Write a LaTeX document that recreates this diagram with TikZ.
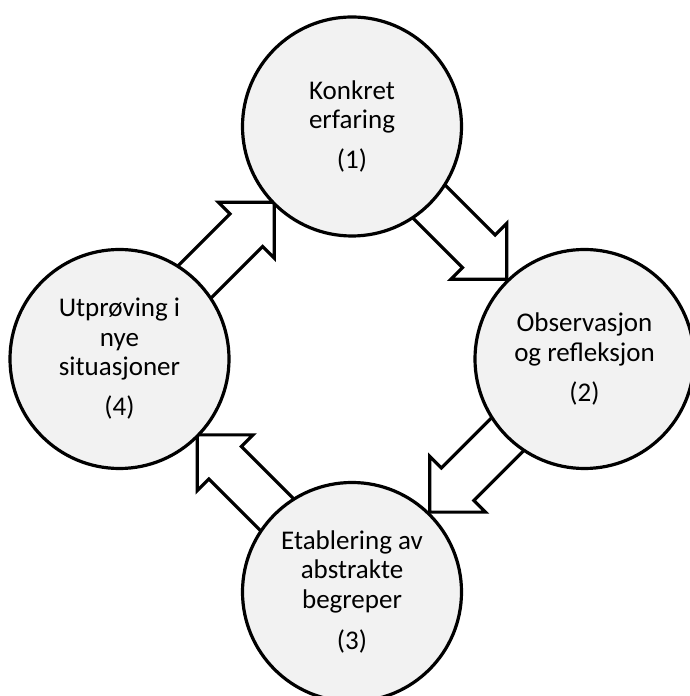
\documentclass[tikz,border=0pt]{standalone}
\usepackage{fontspec}
\setmainfont{Carlito}
\usetikzlibrary{calc}
\definecolor{circfill}{HTML}{F2F2F2}
\begin{document}
\begin{tikzpicture}[x=1pt,y=1pt,
  stage/.style={circle, draw=black, line width=3.2pt, fill=circfill,
    minimum size=219pt, inner sep=0pt, align=center,
    font=\fontsize{27}{29.5}\selectfont, text=black},
  arrowline/.style={draw=black, fill=white, line width=3.2pt, line join=miter},
  blockarrow/.pic={\path[arrowline] (0,0) -- (-39.5,39.5) -- (-39.5,23)
    -- (-160,23) -- (-160,-23) -- (-39.5,-23) -- (-39.5,-39.5) -- cycle;}
]
\useasboundingbox (0,0) rectangle (690,696);
\coordinate (cT) at (352,571.5);
\coordinate (cR) at (584.5,339);
\coordinate (cB) at (352,106);
\coordinate (cL) at (119.5,339);
% block arrows (drawn first, circles cover their tails)
\pic[rotate=45]   at ($(cT)!110pt!(cL)$) {blockarrow};
\pic[rotate=-45]  at ($(cR)!110pt!(cT)$) {blockarrow};
\pic[rotate=-135] at ($(cB)!110pt!(cR)$) {blockarrow};
\pic[rotate=135]  at ($(cL)!110pt!(cB)$) {blockarrow};
% stages
\node[stage] (n1) at ($(cT)+(0,-2)$) {Konkret\\erfaring\\[10.5pt](1)};
\node[stage] (n2) at ($(cR)+(0,-2)$) {Observasjon\\og refleksjon\\[10.5pt](2)};
\node[stage] (n3) at ($(cB)+(0,-2)$) {Etablering av\\abstrakte\\begreper\\[12pt](3)};
\node[stage] (n4) at ($(cL)+(0,-2)$) {Utprøving i\\nye\\situasjoner\\[10.5pt](4)};
\end{tikzpicture}
\end{document}
